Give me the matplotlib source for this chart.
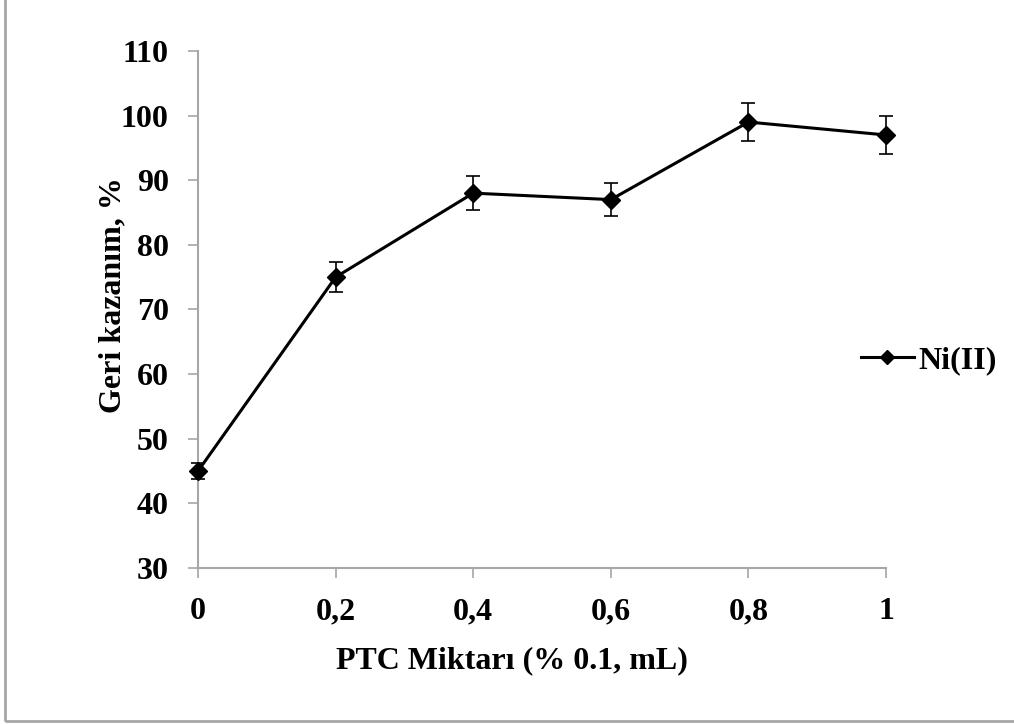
import matplotlib.pyplot as plt
from matplotlib.lines import Line2D
from matplotlib.patches import Rectangle

plt.rcParams["font.family"] = ["Liberation Serif", "DejaVu Serif"]
plt.rcParams["font.weight"] = "bold"

ptc_amount = [0, 0.2, 0.4, 0.6, 0.8, 1.0]
recovery = [45, 75, 88, 87, 99, 97]
recovery_err = [1.2, 2.3, 2.6, 2.6, 3.0, 3.0]
x_ticks = [0, 0.2, 0.4, 0.6, 0.8, 1.0]
x_tick_labels = ["0", "0,2", "0,4", "0,6", "0,8", "1"]
y_ticks = [30, 40, 50, 60, 70, 80, 90, 100, 110]

AXIS_GRAY = "#a6a6a6"

fig = plt.figure(figsize=(10.14, 7.24), dpi=100)
ax = fig.add_axes([0.1953, 0.2155, 0.6785, 0.7141])

line, caps, bars = ax.errorbar(ptc_amount, recovery, yerr=recovery_err, color="black", lw=2.2,
                               marker="D", markersize=9, ecolor="black", elinewidth=1.2,
                               capsize=5, capthick=1.2, zorder=3)
line.set_clip_on(False)
for c in caps:
    c.set_clip_on(False)
for b in bars:
    b.set_clip_on(False)

ax.set_xlim(0, 1)
ax.set_ylim(30, 110)
ax.set_xticks(x_ticks)
ax.set_xticklabels(x_tick_labels)
ax.set_yticks(y_ticks)
ax.tick_params(axis="both", direction="out", length=7, width=1.2, color=AXIS_GRAY,
               labelsize=23, pad=14)
for s in ["top", "right"]:
    ax.spines[s].set_visible(False)
for s in ["left", "bottom"]:
    ax.spines[s].set_color(AXIS_GRAY)
    ax.spines[s].set_linewidth(1.5)

ax.set_xlabel("PTC Miktarı (% 0.1, mL)", fontsize=23, fontweight="bold")
ax.set_ylabel("Geri kazanım, %", fontsize=23, fontweight="bold")
ax.xaxis.set_label_coords(0.4557, -0.152)
ax.yaxis.set_label_coords(-0.102, 0.528)

handle = Line2D([], [], color="black", lw=2.2, marker="D", markersize=7)
fig.legend([handle], ["Ni(II)"], loc="center left", bbox_to_anchor=(861 / 1014, 1 - 361 / 724),
           frameon=False, fontsize=23, handlelength=1.65, handletextpad=0.15,
           borderpad=0, borderaxespad=0)

fig.patches.append(Rectangle((5 / 1014, 3 / 724), 1.0, 1.0, transform=fig.transFigure,
                             fill=False, edgecolor=AXIS_GRAY, lw=2))

fig.savefig("out.png", dpi=100)
